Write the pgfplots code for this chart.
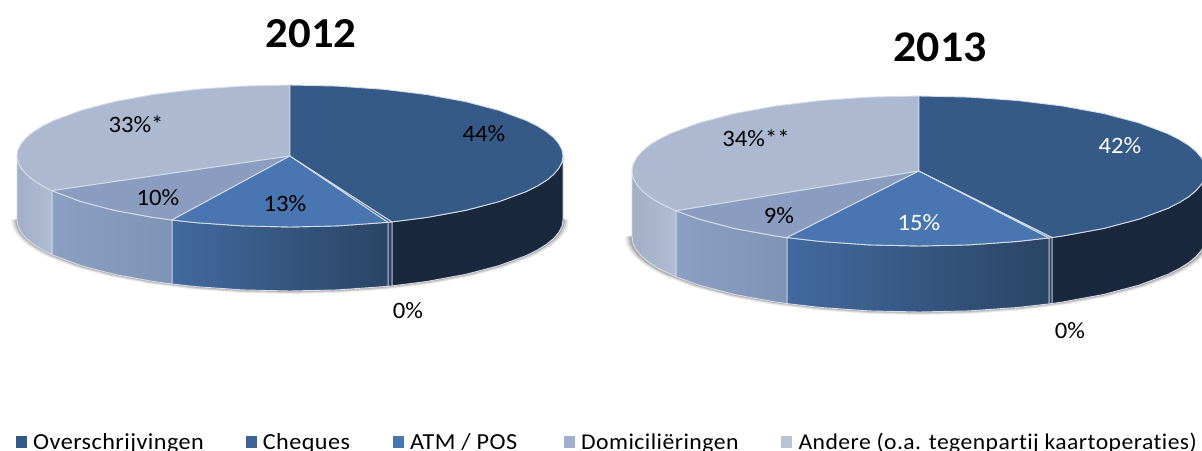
\documentclass[border=0pt]{standalone}
\usepackage{fontspec}
\setmainfont[FakeStretch=1.05,Ligatures=NoCommon]{Carlito}
\newfontfamily\legfont[FakeStretch=1.05,LetterSpace=2,Ligatures=NoCommon]{Carlito}
\usepackage{pgfplots}
\usepackage{pgfplotstable}
\pgfplotsset{compat=1.18}

\definecolor{ovtop}{HTML}{365A87}
\definecolor{ovside}{HTML}{19283D}
\definecolor{attop}{HTML}{4976B0}
\definecolor{atleft}{HTML}{426A9F}
\definecolor{atright}{HTML}{2B4464}
\definecolor{dotop}{HTML}{8A9DC0}
\definecolor{doleft}{HTML}{8B9FC3}
\definecolor{doright}{HTML}{7F93B5}
\definecolor{antop}{HTML}{ADB9D1}
\definecolor{anleft}{HTML}{A2AFC7}
\definecolor{anright}{HTML}{B0BCD4}
\definecolor{rim}{HTML}{D5DCE8}

% lower half of the rim, unit circle, for the soft shadow
\pgfplotstableread{
s c
1 0
0.996 0.087
0.985 0.174
0.966 0.259
0.940 0.342
0.906 0.423
0.866 0.5
0.766 0.643
0.643 0.766
0.5 0.866
0.342 0.940
0.174 0.985
0 1
-0.174 0.985
-0.342 0.940
-0.5 0.866
-0.643 0.766
-0.766 0.643
-0.866 0.5
-0.906 0.423
-0.940 0.342
-0.966 0.259
-0.985 0.174
-0.996 0.087
-1 0
0 -0.9
}\halfrim

\pgfplotsset{
  top/.style={fill=#1,draw=rim,line width=0.9pt,line join=round,forget plot},
  side/.style 2 args={left color=#1,right color=#2,draw=rim,line width=0.9pt,line join=round,forget plot},
  shad/.style={fill=#1,draw=none,forget plot},
  sq/.style={legend image code/.code={\fill[##1,draw=none] (0pt,-6pt) rectangle (11pt,6pt);}},
}
\tikzset{lab/.style={font=\fontsize{23.5}{26}\selectfont,inner sep=0pt,text=#1},lab/.default=black}

\begin{document}
\begin{tikzpicture}
\begin{axis}[
  width=1202pt,height=450pt,scale only axis,
  xmin=0,xmax=1202,ymin=0,ymax=450,y dir=reverse,
  hide axis,no markers,
  legend columns=5,
  legend style={at={(axis cs:16,442)},anchor=west,draw=none,fill=none,inner sep=0pt,
    font=\legfont\fontsize{23}{26}\selectfont,
    /tikz/column 1/.style={column sep=4pt},
    /tikz/column 3/.style={column sep=4pt},
    /tikz/column 5/.style={column sep=4pt},
    /tikz/column 7/.style={column sep=4pt},
    /tikz/column 9/.style={column sep=5pt},
    /tikz/column 2/.style={column sep=40pt},
    /tikz/column 4/.style={column sep=41pt},
    /tikz/column 6/.style={column sep=45pt},
    /tikz/column 8/.style={column sep=40pt}},
  legend cell align=left,
]
% legend
\addlegendimage{sq,fill=ovtop}\addlegendentry{Overschrijvingen}
\addlegendimage{sq,fill=attop!85!black}\addlegendentry{Cheques}
\addlegendimage{sq,fill=attop}\addlegendentry{ATM / POS}
\addlegendimage{sq,fill=dotop!80!white}\addlegendentry{\fontsize{22.6}{26}\selectfont Domiciliëringen}
\addlegendimage{sq,fill=antop!85!white}\addlegendentry{\fontsize{22.5}{26}\selectfont Andere (o.a. tegenpartij kaartoperaties)}

% 2012 shadow
\addplot[shad=black!8] table[x expr=290+279*\thisrow{s},y expr=220+74*\thisrow{c}]{\halfrim} -- cycle;
\addplot[shad=black!18] table[x expr=290+277*\thisrow{s},y expr=220+73*\thisrow{c}]{\halfrim} -- cycle;
\addplot[shad=black!32] table[x expr=290+275*\thisrow{s},y expr=220+72*\thisrow{c}]{\halfrim} -- cycle;
% 2012 rim
\addplot[side={ovside}{ovside}] coordinates {(563,156)(562,162.2)(558.8,168.3)(553.7,174.4)(546.5,180.3)(537.4,186)(526.4,191.5)(499.1,201.6)(465.5,210.4)(426.5,217.5)(392,221.9)(392,285.9)(426.5,281.5)(465.5,274.4)(499.1,265.6)(526.4,255.5)(537.4,250)(546.5,244.3)(553.7,238.4)(558.8,232.3)(562,226.2)(563,220)} -- cycle;
\addplot[side={atright}{atright}] coordinates {(392,221.9)(388,222.3)(388,286.3)(392,285.9)} -- cycle;
\addplot[side={atleft}{atright}] coordinates {(388,222.3)(337.4,225.9)(290,227)(242.6,225.9)(196.6,222.7)(172,220)(172,284)(196.6,286.7)(242.6,289.9)(290,291)(337.4,289.9)(388,286.3)} -- cycle;
\addplot[side={doleft}{doright}] coordinates {(172,220)(153.5,217.5)(114.5,210.4)(80.9,201.6)(52,190.7)(52,254.7)(80.9,265.6)(114.5,274.4)(153.5,281.5)(172,284)} -- cycle;
\addplot[side={anleft}{anright}] coordinates {(52,190.7)(42.6,186)(33.5,180.3)(26.3,174.4)(21.2,168.3)(18,162.2)(17,156)(17,220)(18,226.2)(21.2,232.3)(26.3,238.4)(33.5,244.3)(42.6,250)(52,254.7)} -- cycle;
% 2012 top
\addplot[top=antop] coordinates {(290,156)(52,190.7)(42.6,186)(33.5,180.3)(26.3,174.4)(21.2,168.3)(18,162.2)(17,156)(18,149.8)(21.2,143.7)(26.3,137.6)(33.5,131.7)(42.6,126)(53.6,120.5)(80.9,110.4)(114.5,101.6)(153.5,94.5)(196.6,89.3)(242.6,86.1)(290,85)} -- cycle;
\addplot[top=dotop] coordinates {(290,156)(172,220)(153.5,217.5)(114.5,210.4)(80.9,201.6)(52,190.7)} -- cycle;
\addplot[top=attop] coordinates {(290,156)(388,222.3)(337.4,225.9)(290,227)(242.6,225.9)(196.6,222.7)(172,220)} -- cycle;
\addplot[top=attop!85!black] coordinates {(290,156)(392,221.9)(388,222.3)} -- cycle;
\addplot[top=ovtop] coordinates {(290,156)(290,85)(337.4,86.1)(383.4,89.3)(426.5,94.5)(465.5,101.6)(499.1,110.4)(526.4,120.5)(537.4,126)(546.5,131.7)(553.7,137.6)(558.8,143.7)(562,149.8)(563,156)(562,162.2)(558.8,168.3)(553.7,174.4)(546.5,180.3)(537.4,186)(526.4,191.5)(499.1,201.6)(465.5,210.4)(426.5,217.5)(392,221.9)} -- cycle;

% 2013 shadow
\addplot[shad=black!8] table[x expr=919+294*\thisrow{s},y expr=237+78*\thisrow{c}]{\halfrim} -- cycle;
\addplot[shad=black!18] table[x expr=919+292*\thisrow{s},y expr=237+77*\thisrow{c}]{\halfrim} -- cycle;
\addplot[shad=black!32] table[x expr=919+290*\thisrow{s},y expr=237+76*\thisrow{c}]{\halfrim} -- cycle;
% 2013 rim
\addplot[side={ovside}{ovside}] coordinates {(1206,171)(1204.9,177.5)(1201.6,184)(1196.2,190.4)(1188.7,196.7)(1179,202.7)(1167.5,208.5)(1138.8,219.2)(1103.5,228.5)(1062.5,236)(1052,237.5)(1052,303.5)(1062.5,302)(1103.5,294.5)(1138.8,285.2)(1167.5,274.5)(1179,268.7)(1188.7,262.7)(1196.2,256.4)(1201.6,250)(1204.9,243.5)(1206,237)} -- cycle;
\addplot[side={atright}{atright}] coordinates {(1052,237.5)(1049,237.9)(1049,303.9)(1052,303.5)} -- cycle;
\addplot[side={atleft}{atright}] coordinates {(1049,237.9)(1017.2,241.5)(968.8,244.9)(919,246)(869.2,244.9)(820.8,241.5)(787,237.6)(787,303.6)(820.8,307.5)(869.2,310.9)(919,312)(968.8,310.9)(1017.2,307.5)(1049,303.9)} -- cycle;
\addplot[side={doleft}{doright}] coordinates {(787,237.6)(775.5,236)(734.5,228.5)(699.2,219.2)(676,210.8)(676,276.8)(699.2,285.2)(734.5,294.5)(775.5,302)(787,303.6)} -- cycle;
\addplot[side={anleft}{anright}] coordinates {(676,210.8)(658.9,202.7)(649.3,196.7)(641.8,190.4)(636.4,184)(633.1,177.5)(632,171)(632,237)(633.1,243.5)(636.4,250)(641.8,256.4)(649.3,262.7)(658.9,268.7)(676,276.8)} -- cycle;
% 2013 top
\addplot[top=antop] coordinates {(919,171)(676,210.8)(658.9,202.7)(649.3,196.7)(641.8,190.4)(636.4,184)(633.1,177.5)(632,171)(633.1,164.5)(636.4,158)(641.8,151.6)(649.3,145.3)(658.9,139.3)(670.5,133.5)(699.2,122.8)(734.5,113.5)(775.5,106)(820.8,100.5)(869.2,97.1)(919,96)} -- cycle;
\addplot[top=dotop] coordinates {(919,171)(787,237.6)(775.5,236)(734.5,228.5)(699.2,219.2)(676,210.8)} -- cycle;
\addplot[top=attop] coordinates {(919,171)(1049,237.9)(1017.2,241.5)(968.8,244.9)(919,246)(869.2,244.9)(820.8,241.5)(787,237.6)} -- cycle;
\addplot[top=attop!85!black] coordinates {(919,171)(1052,237.5)(1049,237.9)} -- cycle;
\addplot[top=ovtop] coordinates {(919,171)(919,96)(968.8,97.1)(1017.2,100.5)(1062.5,106)(1103.5,113.5)(1138.8,122.8)(1167.5,133.5)(1179,139.3)(1188.7,145.3)(1196.2,151.6)(1201.6,158)(1204.9,164.5)(1206,171)(1204.9,177.5)(1201.6,184)(1196.2,190.4)(1188.7,196.7)(1179,202.7)(1167.5,208.5)(1138.8,219.2)(1103.5,228.5)(1062.5,236)(1052,237.5)} -- cycle;

% titles and slice labels
\node[font=\bfseries\fontsize{42.7}{46}\selectfont,inner sep=0pt] at (axis cs:311,34) {2012};
\node[font=\bfseries\fontsize{43.7}{46}\selectfont,inner sep=0pt] at (axis cs:940,47) {2013};
\node[lab] at (axis cs:484,134) {44\%};
\node[lab] at (axis cs:285,204) {13\%};
\node[lab] at (axis cs:158,198) {10\%};
\node[lab] at (axis cs:136,124) {33\%*};
\node[lab] at (axis cs:408,311) {0\%};
\node[lab=white] at (axis cs:1120,146) {42\%};
\node[lab=white] at (axis cs:919,223) {15\%};
\node[lab] at (axis cs:779,216) {9\%};
\node[lab] at (axis cs:756,138) {34\%**};
\node[lab] at (axis cs:1070,331) {0\%};
\end{axis}
\pgfresetboundingbox
\useasboundingbox (0,0) rectangle (1202pt,450pt);
\end{tikzpicture}
\end{document}
